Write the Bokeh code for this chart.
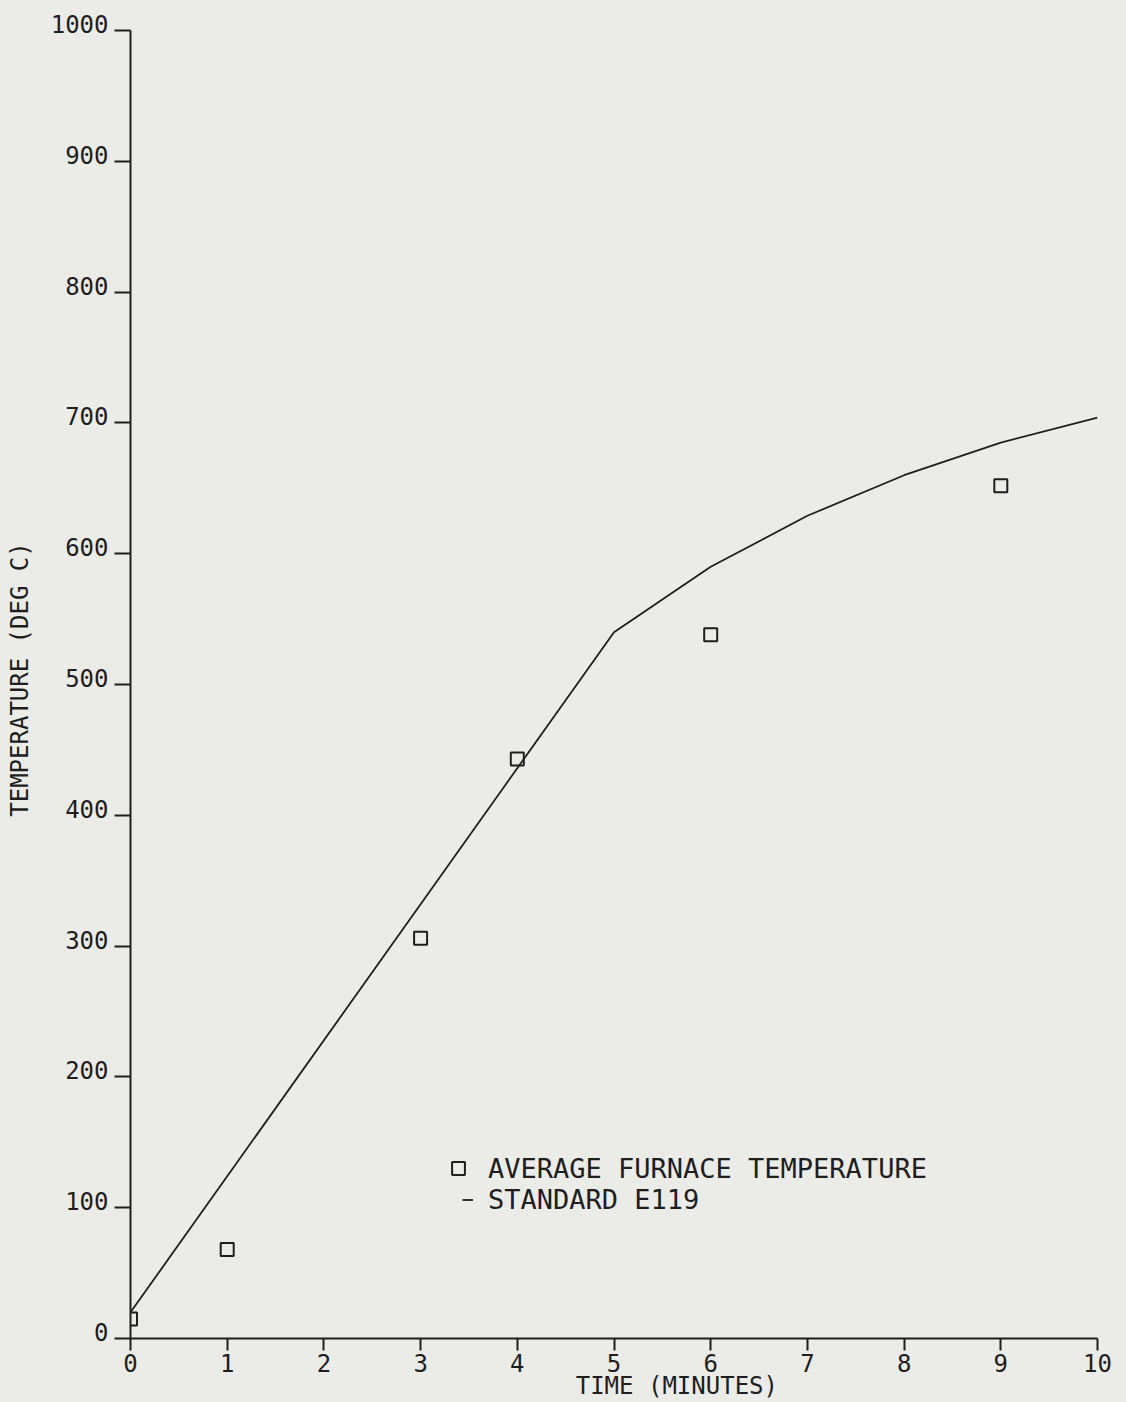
from bokeh.plotting import figure
from bokeh.models import Range1d, FixedTicker, Legend, LegendItem, LinearAxis
from bokeh.embed import file_html
from bokeh.resources import INLINE

# --- data ---
std_time = [0, 5, 6, 7, 8, 9, 10]
std_temp = [20, 540, 590, 629, 660, 685, 704]

avg_time = [0, 1, 3, 4, 6, 9]
avg_temp = [15, 68, 306, 443, 538, 652]

x_ticks = [0, 1, 2, 3, 4, 5, 6, 7, 8, 9, 10]
y_ticks = [0, 100, 200, 300, 400, 500, 600, 700, 800, 900, 1000]

x_title = "TIME (MINUTES)"
y_title = "TEMPERATURE (DEG C)"
legend_labels = ["AVERAGE FURNACE TEMPERATURE", "STANDARD E119"]

BG = "#ebebe8"
INK = "#1e1e1e"
FONT = "DejaVu Sans Mono"

Y_TOP = 1007.65      # a little headroom above the 1000 tick for its label
LBL_SHIFT = 4.97     # raise y labels slightly above their ticks

p = figure(width=1126, height=1402, output_backend="svg", toolbar_location=None,
           x_range=Range1d(0, 10), y_range=Range1d(0, Y_TOP),
           min_border_left=130, min_border_right=29, min_border_top=20, min_border_bottom=64)
p.background_fill_color = BG
p.border_fill_color = BG
p.outline_line_color = None
p.xgrid.visible = False
p.ygrid.visible = False

p.extra_y_ranges = {"lbl": Range1d(-LBL_SHIFT, Y_TOP - LBL_SHIFT)}


def style(ax):
    ax.axis_line_color = INK
    ax.axis_line_width = 2
    ax.major_tick_line_color = INK
    ax.major_tick_line_width = 2
    ax.major_tick_in = 0
    ax.minor_tick_line_color = None
    ax.major_label_text_font = FONT
    ax.major_label_text_font_size = "24px"
    ax.major_label_text_color = INK
    ax.axis_label_text_font = FONT
    ax.axis_label_text_font_style = "normal"
    ax.axis_label_text_color = INK
    ax.axis_label_text_font_size = "24px"


# x axis: line, ticks, labels
xa = p.xaxis[0]
style(xa)
xa.ticker = FixedTicker(ticks=x_ticks)
xa.major_tick_out = 12
xa.major_label_standoff = 3

# x title, placed as the label of an extra (line-less) axis
x_title_pos = 5.65
xt = LinearAxis(ticker=FixedTicker(ticks=[x_title_pos]),
                major_label_overrides={x_title_pos: x_title})
style(xt)
xt.axis_line_color = None
xt.major_tick_line_color = None
xt.major_tick_out = 0
xt.major_label_standoff = -3
p.add_layout(xt, "below")

# y axis: line and ticks only
ya = p.yaxis[0]
style(ya)
ya.ticker = FixedTicker(ticks=y_ticks)
ya.bounds = (y_ticks[0], y_ticks[-1])
ya.major_tick_out = 16
ya.major_label_standoff = 0
ya.major_label_text_font_size = "1px"
ya.major_label_text_alpha = 0

# y labels + title
yl = LinearAxis(y_range_name="lbl", ticker=FixedTicker(ticks=y_ticks), axis_label=y_title)
style(yl)
yl.axis_line_color = None
yl.major_tick_line_color = None
yl.major_tick_out = 0
yl.major_label_standoff = 6
yl.axis_label_standoff = 14
p.add_layout(yl, "left")

line_r = p.line(std_time, std_temp, line_color=INK, line_width=1.8)
sq_r = p.scatter(avg_time, avg_temp, marker="square", size=13, fill_alpha=0,
                 line_color=INK, line_width=2)

common = dict(orientation="vertical", background_fill_alpha=0, border_line_color=None,
              padding=0, margin=0, spacing=0,
              label_text_font=FONT, label_text_font_size="27px", label_text_color=INK)
leg1 = Legend(items=[LegendItem(label=legend_labels[0], renderers=[sq_r])],
              location=(312, 154), glyph_width=32, glyph_height=32, label_height=31,
              label_standoff=14, **common)
leg2 = Legend(items=[LegendItem(label=legend_labels[1], renderers=[line_r])],
              location=(332, 123), glyph_width=11, glyph_height=27, label_height=31,
              label_standoff=15, **common)
p.add_layout(leg1, "center")
p.add_layout(leg2, "center")

html = file_html(p, INLINE)
html = html.replace("<body>", '<body style="background-color:%s;">' % BG)
open("out.html", "w").write(html)
